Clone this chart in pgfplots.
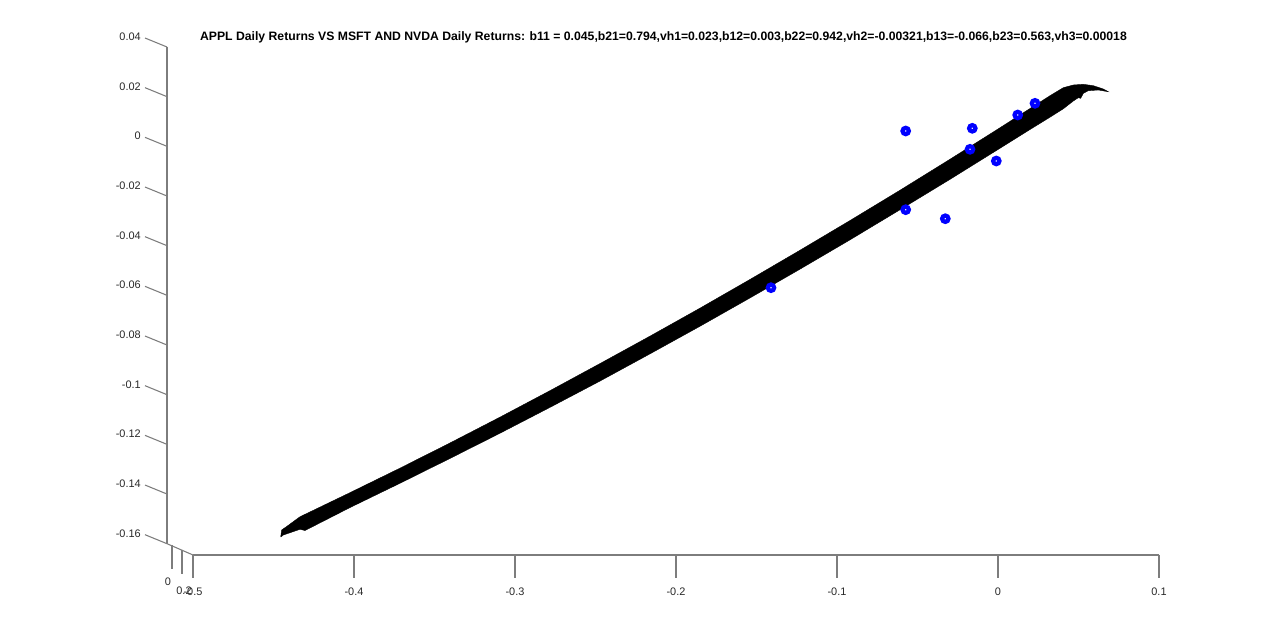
\documentclass[border=0pt]{standalone}
\usepackage{pgfplots}
\pgfplotsset{compat=1.18}
\usepackage{fontspec}
\setmainfont{Liberation Sans}
\definecolor{axgray}{RGB}{125,125,125}
\definecolor{lblgray}{RGB}{40,40,40}
\definecolor{mblue}{RGB}{0,0,255}
\begin{document}
\begin{tikzpicture}
\begin{axis}[
  x=1207.5pt, y=1862.625pt,
  xmin=-0.51615, xmax=0.1, ymin=-0.16455, ymax=0.04,
  hide axis, clip=false,
]
% fitted surface seen edge-on (black band)
\addplot[fill=black, draw=black, line width=0.3pt] coordinates {
(-0.44553,-0.15730) (-0.44491,-0.15448) (-0.44180,-0.15308) (-0.43354,-0.14915)
(-0.40248,-0.13945) (-0.37143,-0.12958) (-0.34037,-0.11944) (-0.30932,-0.10905)
(-0.27826,-0.09838) (-0.24720,-0.08747) (-0.21615,-0.07643) (-0.18509,-0.06516)
(-0.15404,-0.05360) (-0.12298,-0.04184) (-0.09193,-0.02988) (-0.06087,-0.01768)
(-0.02981,-0.00520) (0.00124,0.00748) (0.01988,0.01523) (0.03230,0.02039)
(0.04056,0.02361) (0.04677,0.02470) (0.05298,0.02498) (0.05919,0.02442)
(0.06540,0.02309) (0.06851,0.02200)
(0.06230,0.02269) (0.05609,0.02240) (0.05298,0.02136) (0.05137,0.01934)
(0.04988,0.01959) (0.04677,0.01826) (0.04056,0.01512) (0.03230,0.01174)
(0.01988,0.00678) (0.00124,-0.00077) (-0.02981,-0.01329) (-0.06087,-0.02553)
(-0.09193,-0.03765) (-0.12298,-0.04945) (-0.15404,-0.06104) (-0.18509,-0.07244)
(-0.21615,-0.08355) (-0.24720,-0.09451) (-0.27826,-0.10510) (-0.30932,-0.11552)
(-0.34037,-0.12567) (-0.37143,-0.13566) (-0.40248,-0.14544) (-0.43043,-0.15469)
(-0.43354,-0.15420) (-0.44391,-0.15650) (-0.44553,-0.15730)
};
% observed daily returns
\addplot[only marks, mark=*, mark size=2.36pt,
  mark options={draw=mblue, fill=white, line width=3.2pt}] coordinates {
(-0.05733,0.00618) (-0.01596,0.00726) (-0.01739,-0.00119) (-0.00106,-0.00590)
(0.01224,0.01262) (0.02298,0.01733) (-0.05733,-0.02551) (-0.03273,-0.02914)
(-0.14099,-0.05692)
};
% axis frame (MATLAB 3-D style)
\draw[axgray, line width=0.8pt] (axis cs:-0.5,-0.16455) -- (axis cs:0.1,-0.16455);
\draw[axgray, line width=0.8pt] (axis cs:-0.51615,-0.16) -- (axis cs:-0.51615,0.04);
\draw[axgray, line width=0.8pt] (axis cs:-0.51615,-0.16) -- (axis cs:-0.5,-0.16455);
\pgfplotsinvokeforeach{-0.16,-0.14,-0.12,-0.1,-0.08,-0.06,-0.04,-0.02,0,0.02,0.04}{
  \draw[axgray, line width=0.8pt] (axis cs:-0.51615,#1) -- ([shift={(-16.5pt,6.75pt)}]axis cs:-0.51615,#1);
  \node[anchor=east, text=lblgray, font=\fontsize{8.2pt}{9pt}\selectfont, inner sep=0pt]
    at ([shift={(-19.5pt,7.7pt)}]axis cs:-0.51615,#1) {#1};
}
\pgfplotsinvokeforeach{-0.5,-0.4,-0.3,-0.2,-0.1,0,0.1}{
  \draw[axgray, line width=0.8pt] (axis cs:#1,-0.16455) -- ([yshift=-17.25pt]axis cs:#1,-0.16455);
  \node[text=lblgray, font=\fontsize{8.2pt}{9pt}\selectfont, inner sep=0pt]
    at ([yshift=-27.75pt]axis cs:#1,-0.16455) {#1};
}
% depth (y) axis ticks
\draw[axgray, line width=0.8pt] (axis cs:-0.51304,-0.16052) -- (axis cs:-0.51304,-0.17019);
\draw[axgray, line width=0.8pt] (axis cs:-0.50683,-0.16254) -- (axis cs:-0.50683,-0.17220);
\node[text=lblgray, font=\fontsize{8.2pt}{9pt}\selectfont, inner sep=0pt]
  at (axis cs:-0.51553,-0.17542) {0};
\node[text=lblgray, font=\fontsize{8.2pt}{9pt}\selectfont, inner sep=0pt]
  at (axis cs:-0.50559,-0.17904) {0.2};
% title
\node[font=\bfseries\fontsize{9.16pt}{11pt}\selectfont, text=black, inner sep=0pt]
  at (axis cs:-0.20776,0.04403)
  {APPL Daily Returns VS MSFT AND NVDA Daily Returns: b11 = 0.045,b21=0.794,vh1=0.023,b12=0.003,b22=0.942,vh2=-0.00321,b13=-0.066,b23=0.563,vh3=0.00018};
\coordinate (bbA) at (axis cs:-0.61988,-0.19233);
\coordinate (bbB) at (axis cs:0.17516,0.058925);
\end{axis}
\useasboundingbox (bbA) rectangle (bbB);
\end{tikzpicture}
\end{document}
